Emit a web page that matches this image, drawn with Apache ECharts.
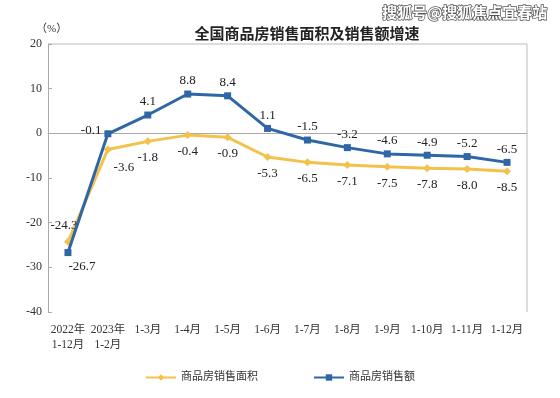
<!DOCTYPE html>
<html>
<head>
<meta charset="utf-8">
<script src="https://cdn.jsdelivr.net/npm/echarts@6/dist/echarts.min.js"></script>
<style>
  html, body { margin: 0; padding: 0; background: #fff; }
  #main { width: 560px; height: 398px; }
</style>
</head>
<body>
<div id="main"></div>
<script>
var categories = ['2022年\n1-12月', '2023年\n1-2月', '1-3月', '1-4月', '1-5月', '1-6月',
  '1-7月', '1-8月', '1-9月', '1-10月', '1-11月', '1-12月'];
var areaGrowth = [-24.3, -3.6, -1.8, -0.4, -0.9, -5.3, -6.5, -7.1, -7.5, -7.8, -8.0, -8.5];
var salesGrowth = [-26.7, -0.1, 4.1, 8.8, 8.4, 1.1, -1.5, -3.2, -4.6, -4.9, -5.2, -6.5];
var yTicks = [-40, -30, -20, -10, 0, 10, 20];

var serif = '"Liberation Serif", "Noto Sans CJK SC", serif';
var yellow = '#f2c24a';
var blue = '#2f66a6';

var chart = echarts.init(document.getElementById('main'));

var areaData = areaGrowth.map(function (v, i) {
  if (i === 0) return { value: v, label: { position: 'top', distance: 6, offset: [-4, 0] } };
  if (i === 1) return { value: v, label: { offset: [16, 2] } };
  return v;
});
var salesData = salesGrowth.map(function (v, i) {
  if (i === 0) return { value: v, label: { position: 'bottom', distance: 4, offset: [14, 0] } };
  if (i === 1) return { value: v, label: { position: 'left', offset: [0, -3] } };
  return v;
});

function fmt(p) { return p.value.toFixed(1); }

var option = {
  animation: false,
  title: {
    text: '全国商品房销售面积及销售额增速',
    left: 302,
    top: 21,
    textAlign: 'center',
    textStyle: { fontFamily: '"Noto Sans CJK SC", sans-serif', fontSize: 15, fontWeight: 'bold', color: '#222' }
  },
  graphic: [
    {
      type: 'text', left: 36, top: 24,
      style: { text: '（%）', font: '11px ' + serif, fill: '#333' }
    },
    {
      type: 'text', right: 12, top: 4,
      style: {
        text: '搜狐号@搜狐焦点宜春站', font: 'bold 15px "Noto Sans CJK SC", sans-serif',
        fill: '#fff', stroke: '#555', lineWidth: 1.5
      }
    },
    // top and right border of plot box
    {
      type: 'polyline', silent: true,
      shape: { points: [[48, 44], [527, 44], [527, 312]] },
      style: { stroke: '#bbb', lineWidth: 1, fill: null }
    }
  ],
  legend: {
    bottom: 10,
    left: 'center',
    itemGap: 55,
    itemWidth: 30,
    itemHeight: 8,
    textStyle: { fontFamily: serif, fontSize: 11, color: '#333' },
    data: ['商品房销售面积', '商品房销售额']
  },
  grid: { left: 48, right: 33, top: 44, bottom: 86, containLabel: false },
  xAxis: {
    type: 'category',
    data: categories,
    boundaryGap: true,
    axisLine: { lineStyle: { color: '#aaa' } },
    axisTick: { inside: true, length: 5, lineStyle: { color: '#aaa' } },
    axisLabel: {
      interval: 0, color: '#333', fontFamily: serif, fontSize: 11.5,
      lineHeight: 15, margin: 10, align: 'center'
    }
  },
  yAxis: {
    type: 'value',
    min: -40, max: 20, interval: 10,
    axisLine: { show: true, lineStyle: { color: '#aaa' } },
    axisTick: { show: true, inside: true, length: 4, lineStyle: { color: '#aaa' } },
    splitLine: { show: false },
    axisLabel: {
      color: '#333', fontFamily: serif, fontSize: 12, margin: 6,
      customValues: yTicks
    }
  },
  series: [
    {
      name: '商品房销售面积',
      type: 'line',
      data: areaData,
      symbol: 'diamond',
      symbolSize: 8,
      itemStyle: { color: yellow },
      lineStyle: { color: yellow, width: 3 },
      label: {
        show: true, position: 'bottom', distance: 6, formatter: fmt,
        fontFamily: serif, fontSize: 13, color: '#222'
      },
      z: 2
    },
    {
      name: '商品房销售额',
      type: 'line',
      data: salesData,
      symbol: 'rect',
      symbolSize: 7,
      itemStyle: { color: blue },
      lineStyle: { color: blue, width: 3 },
      label: {
        show: true, position: 'top', distance: 3, formatter: fmt,
        fontFamily: serif, fontSize: 13, color: '#222'
      },
      z: 3
    }
  ]
};

chart.setOption(option);
</script>
</body>
</html>
